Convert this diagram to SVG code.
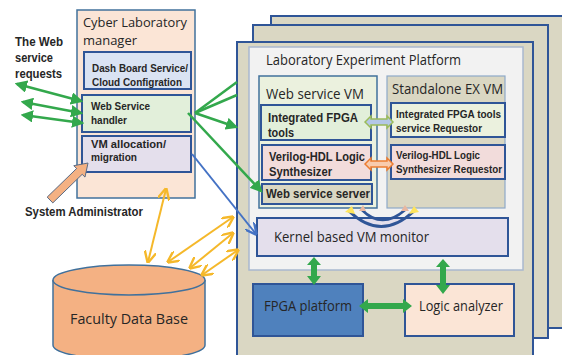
<svg xmlns="http://www.w3.org/2000/svg" width="562" height="355" viewBox="0 0 562 355">
<defs>
<style>
text{font-family:"Open Sans","Liberation Sans",sans-serif;fill:#262626}
.b{font-family:"Liberation Sans",Arial,sans-serif;font-weight:bold}
.box{stroke:#2f5597;stroke-width:2}
.thin{stroke:#41719c;stroke-width:1.5}
.g{stroke:#33a84c;stroke-width:2.5;fill:none}
.o{stroke:#f5b82a;stroke-width:2;fill:none}
</style>
<marker id="ga" viewBox="0 0 10 10" refX="8" refY="5" markerWidth="5" markerHeight="5" orient="auto-start-reverse"><path d="M0,0 L10,5 L0,10 z" fill="#33a84c"/></marker>
<marker id="oa" viewBox="0 0 10 10" refX="9" refY="5" markerWidth="6" markerHeight="6" orient="auto-start-reverse"><path d="M0,0 L10,5 L0,10" fill="none" stroke="#f5b82a" stroke-width="2"/></marker>
<marker id="ba" viewBox="0 0 10 10" refX="9" refY="5" markerWidth="6" markerHeight="6" orient="auto"><path d="M0,0 L10,5 L0,10" fill="none" stroke="#4472c4" stroke-width="2"/></marker>
</defs>
<rect width="562" height="355" fill="#ffffff"/>

<!-- Stacked platforms -->
<g id="platform-stack">
<rect x="271" y="16" width="296" height="312" fill="#dad7c3" stroke="#2f5597" stroke-width="2"/>
<rect x="253" y="25" width="295" height="313" fill="#dad7c3" stroke="#2f5597" stroke-width="2"/>
<rect x="237" y="42" width="296" height="320" fill="#dad7c3" stroke="#2f5597" stroke-width="2"/>
</g>
<g id="lab-platform">
<rect x="249" y="47" width="274" height="223" fill="#f2f2f2" stroke="#a9b8cf" stroke-width="1.5"/>
<text x="266" y="65" font-size="14" textLength="195" lengthAdjust="spacingAndGlyphs">Laboratory Experiment Platform</text>
</g>

<g id="web-service-vm">
<rect x="259" y="76" width="118" height="132" fill="#ebf1de" class="thin"/>
<text x="266" y="99" font-size="14.5" textLength="98" lengthAdjust="spacingAndGlyphs">Web service VM</text>
</g>
<g id="standalone-vm">
<rect x="387" y="76" width="118" height="132" fill="#dad7c3" stroke="#8ea9c8" stroke-width="1.2"/>
<text x="392" y="94" font-size="14" textLength="111" lengthAdjust="spacingAndGlyphs">Standalone EX VM</text>
</g>

<g id="fpga-tools">
<rect x="261" y="105" width="110" height="35" fill="#e2efda" class="box"/>
<text class="b" x="268" y="122" font-size="12.5" textLength="90" lengthAdjust="spacingAndGlyphs">Integrated FPGA</text>
<text class="b" x="268" y="137" font-size="12.5" textLength="26" lengthAdjust="spacingAndGlyphs">tools</text>
</g>
<g id="verilog">
<rect x="262" y="145" width="109" height="35" fill="#f2dcdb" class="box"/>
<text class="b" x="269" y="161" font-size="12.5" textLength="96" lengthAdjust="spacingAndGlyphs">Verilog-HDL Logic</text>
<text class="b" x="269" y="176" font-size="12.5" textLength="63" lengthAdjust="spacingAndGlyphs">Synthesizer</text>
</g>
<g id="web-server">
<rect x="262" y="184" width="110" height="20" fill="#dad7c3" class="box"/>
<text class="b" x="266" y="198" font-size="12" textLength="104" lengthAdjust="spacingAndGlyphs">Web service server</text>
</g>
<g id="fpga-requestor">
<rect x="391" y="103" width="114" height="34" fill="#ebf1de" class="box"/>
<text class="b" x="396" y="118" font-size="11" textLength="105" lengthAdjust="spacingAndGlyphs">Integrated FPGA tools</text>
<text class="b" x="396" y="132" font-size="11" textLength="86" lengthAdjust="spacingAndGlyphs">service Requestor</text>
</g>
<g id="verilog-requestor">
<rect x="391" y="145" width="114" height="34" fill="#f2dcdb" class="box"/>
<text class="b" x="396" y="159" font-size="11" textLength="84" lengthAdjust="spacingAndGlyphs">Verilog-HDL Logic</text>
<text class="b" x="396" y="173" font-size="11" textLength="106" lengthAdjust="spacingAndGlyphs">Synthesizer Requestor</text>
</g>

<g id="kernel">
<rect x="257" y="218" width="251" height="38" fill="#e4dfec" class="box"/>
<text x="274" y="242" font-size="14" textLength="155" lengthAdjust="spacingAndGlyphs">Kernel based VM monitor</text>
</g>
<g id="fpga-platform">
<rect x="253" y="284" width="110" height="52" fill="#4f81bd" class="box"/>
<text x="264" y="311" font-size="14" textLength="88" lengthAdjust="spacingAndGlyphs">FPGA platform</text>
</g>
<g id="logic-analyzer">
<rect x="405" y="284" width="109" height="52" fill="#fbe5d6" class="box"/>
<text x="419" y="311" font-size="14" textLength="84" lengthAdjust="spacingAndGlyphs">Logic analyzer</text>
</g>

<g id="cyber-manager">
<rect x="77" y="10" width="118" height="188" fill="#fbe5d6" class="thin"/>
<text x="83" y="27" font-size="13.5" textLength="104" lengthAdjust="spacingAndGlyphs">Cyber Laboratory</text>
<text x="83" y="45" font-size="13.5" textLength="54" lengthAdjust="spacingAndGlyphs">manager</text>
</g>
<g id="dashboard">
<rect x="84" y="52" width="107" height="37" fill="#dae3f3" class="box"/>
<text class="b" x="92" y="72" font-size="11.5" textLength="96" lengthAdjust="spacingAndGlyphs">Dash Board Service/</text>
<text class="b" x="92" y="86" font-size="11.5" textLength="90" lengthAdjust="spacingAndGlyphs">Cloud Configration</text>
</g>
<g id="ws-handler">
<rect x="82" y="95" width="109" height="37" fill="#e2efda" class="box"/>
<text class="b" x="91" y="110" font-size="11.5" textLength="59" lengthAdjust="spacingAndGlyphs">Web Service</text>
<text class="b" x="91" y="124" font-size="11.5" textLength="36" lengthAdjust="spacingAndGlyphs">handler</text>
</g>
<g id="vm-alloc">
<rect x="82" y="136" width="109" height="36" fill="#e4dfec" class="box"/>
<text class="b" x="91" y="148" font-size="11.5" textLength="75" lengthAdjust="spacingAndGlyphs">VM allocation/</text>
<text class="b" x="91" y="161" font-size="11.5" textLength="46" lengthAdjust="spacingAndGlyphs">migration</text>
</g>

<g id="database">
<path d="M53,280 L53,345 A76,15 0 0 0 205,345 L205,280" fill="#f4b183" stroke="#41719c" stroke-width="1.5"/>
<ellipse cx="129" cy="280" rx="76" ry="15" fill="#f4b183" stroke="#41719c" stroke-width="1.5"/>
<text x="70" y="324" font-size="15" textLength="118" lengthAdjust="spacingAndGlyphs">Faculty Data Base</text>
</g>

<g id="labels">
<text class="b" x="15" y="46" font-size="12" textLength="48" lengthAdjust="spacingAndGlyphs">The Web</text>
<text class="b" x="15" y="62" font-size="12" textLength="38" lengthAdjust="spacingAndGlyphs">service</text>
<text class="b" x="15" y="78" font-size="12" textLength="47" lengthAdjust="spacingAndGlyphs">requests</text>
<text class="b" x="25" y="216" font-size="12" textLength="118" lengthAdjust="spacingAndGlyphs">System Administrator</text>
</g>

<g id="connectors">
<!-- web requests -->
<line class="g" x1="17" y1="84" x2="81" y2="101" marker-start="url(#ga)" marker-end="url(#ga)"/>
<line class="g" x1="23" y1="102" x2="81" y2="113" marker-start="url(#ga)" marker-end="url(#ga)"/>
<line class="g" x1="23" y1="115" x2="82" y2="123" marker-start="url(#ga)" marker-end="url(#ga)"/>
<!-- handler to platform -->
<line class="g" x1="195" y1="113" x2="237" y2="82"/>
<line class="g" x1="195" y1="113" x2="237" y2="95"/>
<line class="g" x1="195" y1="113" x2="236" y2="127" marker-end="url(#ga)"/>
<line class="g" x1="188" y1="113" x2="261" y2="191" marker-end="url(#ga)"/>
<!-- VM alloc to kernel -->
<line x1="192" y1="154" x2="256" y2="234" stroke="#4472c4" stroke-width="2" marker-end="url(#ba)"/>
<!-- admin block arrow -->
<polygon points="52.8,202.9 47.2,197.1 76.6,168.5 73.8,165.7 88,163 85,177.1 82.2,174.3" fill="#f4b183" stroke="#5a6b85" stroke-width="1"/>
<!-- orange db arrows -->
<line class="o" x1="166" y1="189" x2="148" y2="262" marker-start="url(#oa)" marker-end="url(#oa)"/>
<line class="o" x1="168" y1="262" x2="233" y2="217" marker-start="url(#oa)" marker-end="url(#oa)"/>
<line class="o" x1="190" y1="268" x2="233" y2="233" marker-start="url(#oa)" marker-end="url(#oa)"/>
<line class="o" x1="202" y1="275" x2="238" y2="250" marker-start="url(#oa)" marker-end="url(#oa)"/>
<!-- hollow double arrows -->
<polygon points="365,122 371,116 371,119 387,119 387,116 393,122 387,128 387,125 371,125 371,128" fill="#b4c7e7" stroke="#9bbb59" stroke-width="1.5"/>
<polygon points="365,164 371,158 371,161 387,161 387,158 393,164 387,170 387,167 371,167 371,170" fill="#f8cbad" stroke="#ed7d31" stroke-width="1.5"/>
<!-- curved arrows -->
<path d="M349,211 Q381,242 414,211" fill="none" stroke="#2f5597" stroke-width="3"/>
<path d="M362,210 Q382,230 405,210" fill="none" stroke="#2f5597" stroke-width="2.5"/>
<path d="M345,212 L352,206 L355,214 z" fill="#ffe55c"/>
<path d="M409,214 L414,206 L419,212 z" fill="#ffe55c"/>
<path d="M359,211 L363,205 L366,211 z" fill="#e8b7a0"/>
<path d="M401,211 L405,205 L409,211 z" fill="#e8b7a0"/>
<!-- thick green double arrows -->
<polygon points="314,257 321,265 317,265 317,276 321,276 314,285 307,276 311,276 311,265 307,265" fill="#33a84c"/>
<polygon points="443,259 450,267 446,267 446,285 450,285 443,294 436,285 440,285 440,267 436,267" fill="#33a84c"/>
<polygon points="359,306 368,299 368,303 403,303 403,299 412,306 403,313 403,309 368,309 368,313" fill="#33a84c"/>
</g>
</svg>
